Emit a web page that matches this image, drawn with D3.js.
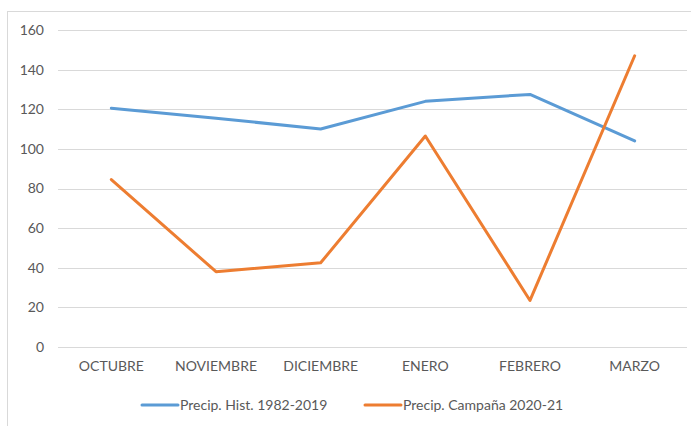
<!DOCTYPE html>
<html>
<head>
<meta charset="utf-8">
<script src="https://cdn.jsdelivr.net/npm/d3@7"></script>
<style>
  body { margin: 0; background: #fff; }
  text { font-family: Lato, "Open Sans", sans-serif; fill: #595959; }
</style>
</head>
<body>
<svg id="chart" width="691" height="426"></svg>
<script>
// data
var months = ["OCTUBRE", "NOVIEMBRE", "DICIEMBRE", "ENERO", "FEBRERO", "MARZO"];
var histValues = [120.5, 115.5, 110, 124, 127.5, 104];
var campValues = [84.5, 38, 42.5, 106.5, 23.5, 147];
var yTicks = [0, 20, 40, 60, 80, 100, 120, 140, 160];
var seriesNames = ["Precip. Hist. 1982-2019", "Precip. Campaña 2020-21"];
var colors = ["#5b9bd5", "#ed7d31"];

var svg = d3.select("#chart");

// chart border (right and bottom edges fall outside the picture)
svg.append("rect")
    .attr("x", 7.5).attr("y", 11.5)
    .attr("width", 720).attr("height", 440)
    .attr("fill", "none")
    .attr("stroke", "#d9d9d9");

var x = d3.scaleBand()
    .domain(months)
    .range([59, 687]);

var y = d3.scaleLinear()
    .domain([0, 160])
    .range([347, 30]);

// gridlines
svg.append("g")
    .selectAll("line")
    .data(yTicks)
    .enter().append("line")
        .attr("x1", 58)
        .attr("x2", 687)
        .attr("y1", function(d) { return Math.round(y(d)) + 0.5; })
        .attr("y2", function(d) { return Math.round(y(d)) + 0.5; })
        .attr("stroke", "#d9d9d9")
        .attr("stroke-width", 1);

// y axis labels
var yAxis = svg.append("g")
    .attr("transform", "translate(44,0)")
    .call(d3.axisLeft(y).tickValues(yTicks).tickSize(0).tickPadding(0));
yAxis.select(".domain").remove();
yAxis.selectAll("text")
    .style("font-size", "14px")
    .attr("fill", "#595959");

// x axis labels
var xAxis = svg.append("g")
    .attr("transform", "translate(0,361)")
    .call(d3.axisBottom(x).tickSize(0).tickPadding(0));
xAxis.select(".domain").remove();
xAxis.selectAll("text")
    .style("font-size", "14px")
    .attr("fill", "#595959");

var line = d3.line()
    .x(function(d, i) { return x(months[i]) + x.bandwidth() / 2; })
    .y(function(d) { return y(d); });

[histValues, campValues].forEach(function(vals, i) {
    svg.append("path")
        .datum(vals)
        .attr("fill", "none")
        .attr("stroke", colors[i])
        .attr("stroke-width", 3)
        .attr("stroke-linejoin", "round")
        .attr("stroke-linecap", "round")
        .attr("d", line);
});

// legend
var legendX = [142, 365];
var legend = svg.append("g")
    .selectAll("g")
    .data(seriesNames)
    .enter().append("g")
        .attr("transform", function(d, i) { return "translate(" + legendX[i] + ",405)"; });
legend.append("line")
    .attr("x1", 0).attr("x2", 36)
    .attr("stroke", function(d, i) { return colors[i]; })
    .attr("stroke-width", 3)
    .attr("stroke-linecap", "round");
legend.append("text")
    .attr("x", 38)
    .attr("dy", "0.35em")
    .style("font-size", "14px")
    .text(function(d) { return d; });
</script>
</body>
</html>
